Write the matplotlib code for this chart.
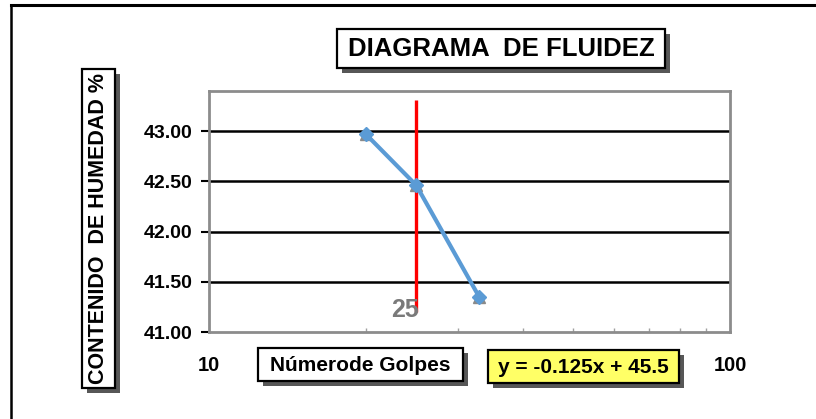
import matplotlib
matplotlib.use("Agg")
import matplotlib.pyplot as plt
from matplotlib.patches import Rectangle
from matplotlib.lines import Line2D

plt.rcParams['font.family'] = ['Liberation Sans', 'DejaVu Sans']

# ---- data ----
golpes = [20, 25, 33]
humedad = [42.97, 42.46, 41.35]
ref_golpes = 25
ref_line_y = [41.20, 43.31]
y_ticks = [41.00, 41.50, 42.00, 42.50, 43.00]
x_ticks = [10, 100]
title_text = "DIAGRAMA  DE FLUIDEZ"
ylabel_text = "CONTENIDO  DE HUMEDAD %"
xlabel_text = "Númerode Golpes"
eq_text = "y = -0.125x + 45.5"

W, H = 816, 419
fig = plt.figure(figsize=(W / 100, H / 100), dpi=100)
fig.patch.set_facecolor('white')


def fx(x):
    return x / W


def fy(y):
    return 1 - y / H


# outer border (top and left visible)
fig.add_artist(Line2D([fx(11), fx(816)], [fy(5), fy(5)], color='black', lw=2.2,
                      transform=fig.transFigure))
fig.add_artist(Line2D([fx(11), fx(11)], [fy(5), fy(419)], color='black', lw=1.8,
                      transform=fig.transFigure))


def shadow_box(x0, y0, x1, y1, face='white', off=5):
    sh = Rectangle((fx(x0 + off), fy(y1 + off)), fx(x1 - x0), (y1 - y0) / H,
                   transform=fig.transFigure, facecolor='#3a3a3a', edgecolor='none',
                   alpha=0.85, zorder=5)
    bx = Rectangle((fx(x0), fy(y1)), fx(x1 - x0), (y1 - y0) / H,
                   transform=fig.transFigure, facecolor=face, edgecolor='black',
                   lw=1.6, zorder=6)
    fig.add_artist(sh)
    fig.add_artist(bx)


# axes
ax = fig.add_axes([fx(209), fy(332), fx(730 - 209), (332 - 91) / H])
ax.set_xscale('log')
ax.set_xlim(10, 100)
ax.set_ylim(41.0, 43.4)

for s in ax.spines.values():
    s.set_color('#8c8c8c')
    s.set_linewidth(2)

ax.set_yticks(y_ticks)
ax.set_yticklabels([f"{v:.2f}" for v in y_ticks], fontsize=14, fontweight='bold')
ax.tick_params(axis='y', length=6, width=1.5, color='black', pad=6)
for v in y_ticks[1:]:
    ax.axhline(v, color='black', lw=1.8, zorder=1)

ax.set_xticks(x_ticks)
ax.set_xticklabels([str(v) for v in x_ticks], fontsize=14.5, fontweight='bold')
ax.tick_params(axis='x', which='major', length=0, pad=17)
ax.tick_params(axis='x', which='minor', direction='in', length=3, color='#a0a0a0',
               width=1)
ax.xaxis.set_minor_formatter(matplotlib.ticker.NullFormatter())

# reference line at 25 blows
ax.vlines(ref_golpes, ref_line_y[0], ref_line_y[1], color='#ff0000', lw=2.4, zorder=2)
ax.annotate(str(ref_golpes), xy=(ref_golpes, 41.22), xytext=(2, 0),
            textcoords='offset points', ha='right', va='center', fontsize=18,
            fontweight='bold', color='#7a7a7a', zorder=3)

# data
ax.plot(golpes, humedad, linestyle='none', marker='^', markersize=9,
        color='#8a8a8a', zorder=3)
ax.plot(golpes, humedad, color='#5b9bd5', lw=3, marker='D', markersize=7,
        markeredgecolor='#5b9bd5', zorder=4)

# title box
shadow_box(337, 29, 665, 68)
fig.text(fx(501), fy(49), title_text, ha='center', va='center', fontsize=18.5,
         fontweight='bold', zorder=7)

# y label box
shadow_box(82, 69, 115, 388)
fig.text(fx(99), fy(228), ylabel_text, ha='center', va='center', rotation=90,
         fontsize=15.5, fontweight='bold', zorder=7)

# x label box
shadow_box(258, 348, 463, 381)
fig.text(fx(360), fy(365), xlabel_text, ha='center', va='center', fontsize=15,
         fontweight='bold', zorder=7)

# equation box
shadow_box(488, 350, 679, 383, face='#ffff66')
fig.text(fx(583), fy(367), eq_text, ha='center', va='center', fontsize=15,
         fontweight='bold', zorder=7)

fig.savefig('out.png', dpi=100)
